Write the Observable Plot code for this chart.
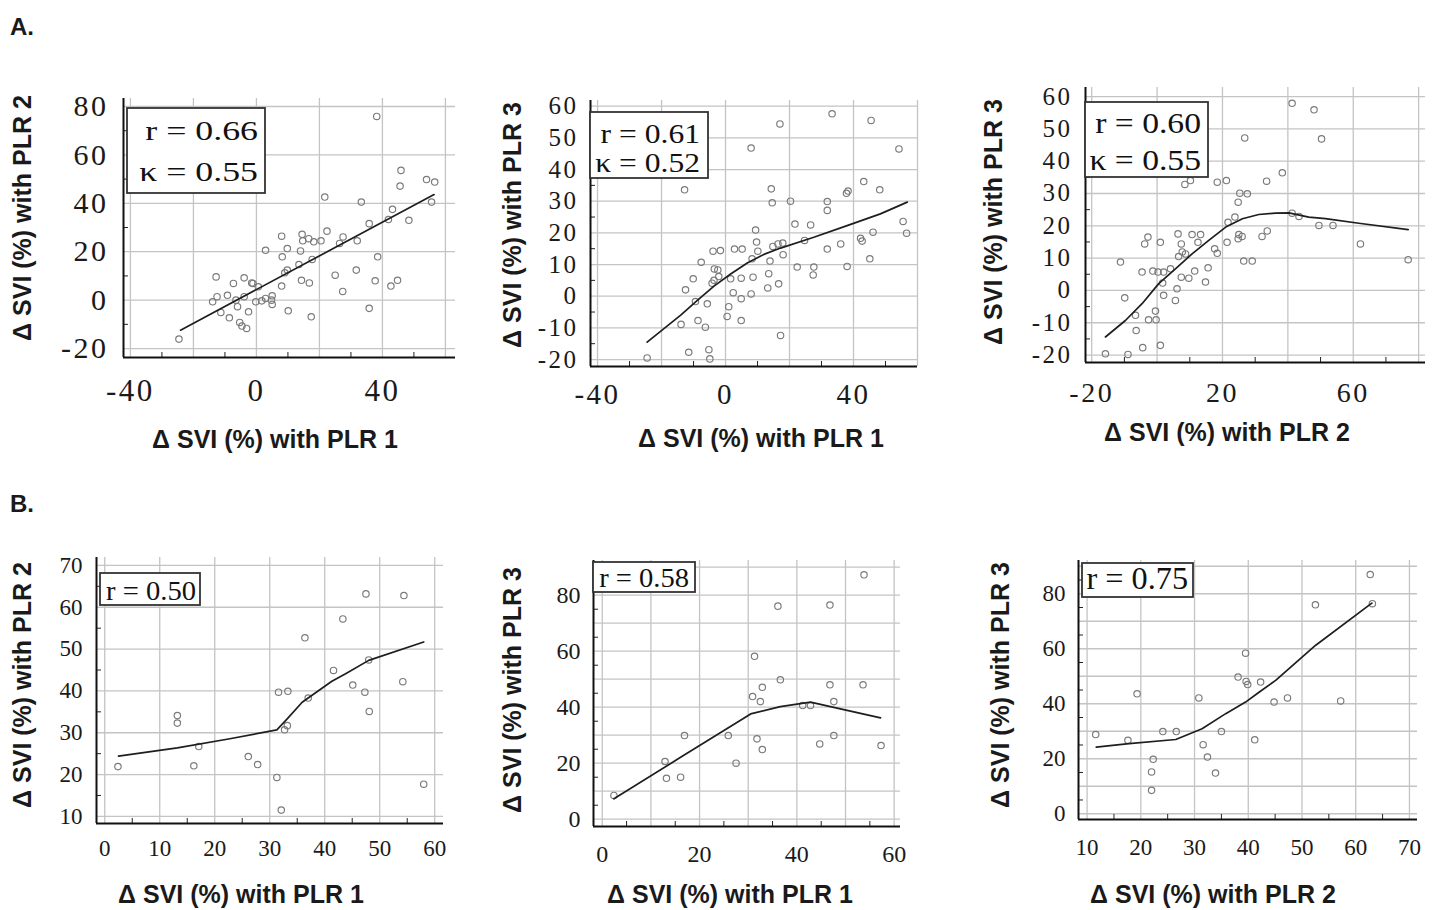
<!DOCTYPE html>
<html><head><meta charset="utf-8">
<script src="https://cdn.jsdelivr.net/npm/d3@7"></script>
<script src="https://cdn.jsdelivr.net/npm/@observablehq/plot@0.6"></script>
<style>
html,body{margin:0;padding:0;background:#fff;}
#fig{position:relative;width:1438px;height:910px;overflow:hidden;background:#fff;}
#fig .panel{position:absolute;}
#fig svg{overflow:visible;}
.wideA svg text{letter-spacing:2.5px;}
</style></head><body><div id="fig"></div>
<script>
// ---------- DATA ----------
// Panel A1: ΔSVI PLR1 (x) vs PLR2 (y)
const a1X = [38.2,45.9,45.6,54,56.6,55.6,21.7,33.3,43.2,35.8,41.9,48.4,8,14.5,14.7,16.6,18.2,20.5,22.4,27.5,26.4,32,2.9,9.8,8.2,14,17.7,13.5,9.8,9,38.5,25,31.7,14.3,16.8,37.7,44.8,42.7,27.4,35.8,17.4,10.1,-12.8,-7.3,-3.9,-1.5,-1.1,0.6,8,-13.9,-12.5,-9.2,-3.9,-6.5,-0.2,1.7,2.9,5,4.8,5,-11.3,-8.6,-6,-2.5,-5.3,-4.6,-3.1,-24.6];
const a1Y = [75.9,53.6,47.1,49.8,48.8,40.5,42.6,40.5,37.5,31.6,33.3,33.0,26.4,27.2,24.5,25.4,24.1,24.5,28.5,26.1,23.4,24.5,20.6,21.3,17.9,20.3,16.8,14.7,12.4,11.3,17.9,10.3,12.4,8.2,7.1,8,8.2,5.8,3.6,-3.4,-6.9,-4.4,9.6,6.9,9.2,7.1,6.9,5.5,5.8,-0.7,1.4,2,1.4,0,-0.7,-0.3,0.7,1.8,0,-1.8,-5.1,-7.3,-2.7,-4.8,-9.2,-10.7,-11.7,-16.1];
const a1LineX = [-24.1,56.4];
const a1LineY = [-12.4,43.6];
// Panel A2: PLR1 (x) vs PLR3 (y)
const a2X = [33.3,45.5,17,8,54.2,-12.8,14.3,14.6,20.3,31.8,31.8,37.8,38.3,43.2,48.2,55.5,56.6,9.4,21.7,26.6,9.7,10.1,14.8,16.4,17.9,18,13.9,8.3,24.7,31.8,36,42.2,42.7,46.1,45.1,38,27.6,27.4,22.4,-3.9,-1.6,2.8,5.2,-7.6,-3.5,-2.4,-2.1,-3.6,-4.2,-10.1,-12.5,1.6,4.9,8.6,13.5,13.2,16.6,2.4,4.9,8,-9.4,-5.7,1,0.5,4.9,-13.9,-8.6,-6.3,17.2,-11.5,-5.2,-4.9,-24.5];
const a2Y = [57.6,55.5,54.4,46.8,46.5,33.6,33.9,29.5,30,29.9,27.1,32.5,33.2,36.2,33.6,23.6,19.9,20.9,22.8,22.5,17.1,14.2,15.7,16.5,16.8,13.1,11.1,11.8,17.6,14.9,16.5,18.3,17.4,20.2,11.8,9.4,9.2,6.7,9.2,14.2,14.4,14.9,14.9,10.7,8.6,8.3,6.2,5,4.1,5.5,2,5.5,5.7,6,7.1,2.6,3.9,1.1,-0.8,0.7,-1.7,-2.4,-3.3,-6.4,-7.7,-8.9,-7.7,-9.8,-12.4,-17.7,-16.9,-19.8,-19.5];
const a2LineX = [-24.5,-14,-8.9,-3.6,1.6,6.8,12,17.2,27.6,38,48.4,56.8];
const a2LineY = [-14.5,-6,-1.4,3.2,7,10.5,13.2,15.2,18.6,22.3,26,29.7];
// Panel A3: PLR2 (x) vs PLR3 (y)
const a3X = [41.3,48,50.3,26.8,38.3,33.5,18.4,21.2,8.5,10.2,25.3,27.6,24.8,23.8,21.7,41.3,43.4,49.5,53.8,62.2,76.8,33.7,32.1,25,26,24.8,21.4,17.6,18.4,26.5,29.1,10.7,13.3,12.5,6.4,7.4,7.7,8.7,6.6,1,-2.8,-3.8,15.6,11.5,9.7,7.4,14.8,6.1,4.1,2,0.3,-1.3,-4.6,1.7,2,5.6,-11.2,-9.9,-6.6,-2.6,-0.5,-0.3,-6.4,-4.4,1,-15.8,-8.9];
const a3Y = [57.9,55.9,46.9,47.2,36.4,33.8,33.5,34,32.8,34,30.1,29.9,27.3,22.7,21.1,23.9,22.9,20.1,20.1,14.4,9.5,18.4,16.7,17.3,16.7,16,14.9,12.9,11.5,9.1,9.1,17.3,17.3,14.9,17.5,14.4,11.9,11.3,10.5,14.9,16.5,14.4,7,6,3.8,4.1,2.6,0.5,6.7,5.7,5.7,6,5.7,2.3,-1.5,-3.1,8.8,-2.3,-7.7,-9.1,-6.4,-9.1,-12.4,-17.7,-17,-19.6,-19.8];
const a3LineX = [-15.8,-9.7,-4.6,0.5,5.6,10.7,15.8,21,26.1,31.1,36.2,40.3,46.4,51.5,61.7,76.8];
const a3LineY = [-14.4,-9.3,-4.1,2.1,6.7,11.3,15.5,19.6,22.2,23.5,23.9,24,22.7,22.2,20.8,18.8];
// Panel B1: PLR1 (x) vs PLR2 (y)
const b1X = [2.4,13.2,13.2,16.2,17.1,26.1,27.8,31.3,32.1,31.6,33.3,32.7,33.2,36.4,37,41.6,43.3,45.1,47.3,48.1,48,47.5,54.4,54.2,58];
const b1Y = [21.9,34.1,32.3,22.1,26.7,24.3,22.4,19.3,11.5,39.7,39.9,30.7,31.7,52.7,38.3,44.9,57.2,41.4,39.7,35.1,47.4,63.2,62.8,42.2,17.7];
const b1LineX = [2.5,13.2,22.5,31.3,33.3,35.9,41.3,43.8,48,58];
const b1LineY = [24.4,26.4,28.5,30.7,33.5,37.3,42.3,44.1,47.3,51.7];
// Panel B2: PLR1 (x) vs PLR3 (y)
const b2X = [2.4,12.9,13.2,16.1,16.9,25.9,27.5,31.3,30.9,32.5,32.9,31.8,32.9,36.1,36.6,41.2,42.8,44.7,46.8,46.8,47.6,47.6,53.8,53.6,57.3];
const b2Y = [8.5,20.6,14.6,15,29.9,29.9,20,58.2,43.8,42,47.1,28.7,24.9,76.1,49.8,40.6,40.6,26.9,76.5,48,42,29.9,87.3,48,26.3];
const b2LineX = [2.4,16.1,30.5,36.6,42.8,46.9,57.2];
const b2LineY = [7.3,22.1,37.6,40.2,41.8,40.2,36.2];
// Panel B3: PLR2 (x) vs PLR3 (y)
const b3X = [11.6,17.6,19.3,24.1,26.6,22.3,22,22,30.8,31.6,32.4,33.9,35,38.1,39.5,39.6,39.9,42.3,41.2,44.8,47.3,52.5,57.2,62.7,63.1];
const b3Y = [28.8,26.7,43.6,29.9,29.9,19.8,15.2,8.5,42.1,25.1,20.6,14.8,29.9,49.7,58.4,48.1,47,47.9,26.9,40.6,42.1,76,41,87,76.4];
const b3LineX = [11.7,17.8,26.5,31.4,35.8,39.5,42,45.1,52.5,63];
const b3LineY = [24.2,25.5,27,30.9,36.4,40.6,44.2,48.5,61.2,76.6];

// Tick values
const a1XTicks = [-40,0,40], a1XGrid = [-40,-20,0,20,40,60], a1XMinor = [-30,-10,10,30,50];
const a1YTicks = [-20,0,20,40,60,80], a1YGrid = [-20,0,20,40,60,80], a1YMinor = [-10,10,30,50,70];
const a2XTicks = [-40,0,40], a2XGrid = [-40,-20,0,20,40,60], a2XMinor = [-30,-10,10,30,50];
const a2YTicks = [-20,-10,0,10,20,30,40,50,60], a2YGrid = a2YTicks, a2YMinor = [-15,-5,5,15,25,35,45,55];
const a3XTicks = [-20,20,60], a3XGrid = [-20,0,20,40,60,80], a3XMinor = [-10,10,30,50,70];
const a3YTicks = [-20,-10,0,10,20,30,40,50,60], a3YGrid = a3YTicks, a3YMinor = [-15,-5,5,15,25,35,45,55];
const b1XTicks = [0,10,20,30,40,50,60], b1XGrid = b1XTicks, b1XMinor = [5,15,25,35,45,55];
const b1YTicks = [10,20,30,40,50,60,70], b1YGrid = b1YTicks, b1YMinor = [15,25,35,45,55,65];
const b2XTicks = [0,20,40,60], b2XGrid = [0,10,20,30,40,50,60], b2XMinor = [5,15,25,35,45,55];
const b2YTicks = [0,20,40,60,80], b2YGrid = [0,10,20,30,40,50,60,70,80,90], b2YMinor = [5,15,25,35,45,55,65,75,85];
const b3XTicks = [10,20,30,40,50,60,70], b3XGrid = b3XTicks, b3XMinor = [15,25,35,45,55,65];
const b3YTicks = [0,20,40,60,80], b3YGrid = [0,10,20,30,40,50,60,70,80,90], b3YMinor = [5,15,25,35,45,55,65,75,85];

// Texts
const panelLetters = ["A.", "B."];
const xTitles = ["Δ SVI (%) with PLR 1","Δ SVI (%) with PLR 1","Δ SVI (%) with PLR 2","Δ SVI (%) with PLR 1","Δ SVI (%) with PLR 1","Δ SVI (%) with PLR 2"];
const yTitles = ["Δ SVI (%) with PLR 2","Δ SVI (%) with PLR 3","Δ SVI (%) with PLR 3","Δ SVI (%) with PLR 2","Δ SVI (%) with PLR 3","Δ SVI (%) with PLR 3"];
const statR = ["r = 0.66","r = 0.61","r = 0.60","r = 0.50","r = 0.58","r = 0.75"];
const statK = ["κ = 0.55","κ = 0.52","κ = 0.55",null,null,null];

// ---------- LAYOUT (positions / sizes / styles) ----------
const layout = [
  {left:123,right:455,top:98,bottom:357,xd:[-42.2,63.2],yd:[-23.7,83.3],xF:31,yF:30,xPad:21,yPad:15,wide:true,
   xt:[275,448],yt:[22,218],box:{x:127,y:108,w:138,h:85,tx:258,b1:140,b2:181,f:28,sx:1.28}},
  {left:590,right:917,top:100,bottom:366,xd:[-42.2,60],yd:[-22.2,61.8],xF:29,yF:25,xPad:17,yPad:12,wide:true,
   xt:[761,447],yt:[512,225],box:{x:590,y:112,w:118,h:66,tx:700,b1:143,b2:172,f:27,sx:1.17}},
  {left:1085,right:1425,top:87,bottom:362,xd:[-21.9,82.1],yd:[-22.3,62.8],xF:28,yF:25,xPad:20,yPad:13,wide:true,
   xt:[1227,441],yt:[993,222],box:{x:1085,y:102,w:123,h:75,tx:1201,b1:133,b2:170,f:29,sx:1.16}},
  {left:96,right:443,top:557,bottom:823,xd:[-1.5,61.6],yd:[8.3,71.9],xF:23,yF:23,xPad:16,yPad:14,wide:false,
   xt:[241,903],yt:[22,685],box:{x:100,y:573,w:100,h:32,tx:196,b1:600,f:27,sx:1.06}},
  {left:593,right:900,top:560,bottom:826,xd:[-1.8,61.3],yd:[-2.6,92.4],xF:24,yF:24,xPad:18,yPad:13,wide:false,
   xt:[730,903],yt:[512,690],box:{x:593,y:562,w:102,h:30,tx:689,b1:587,f:28,sx:1.02}},
  {left:1078,right:1417,top:560,bottom:819,xd:[8.4,71.5],yd:[-2.1,92.1],xF:23,yF:23,xPad:19,yPad:13,wide:false,
   xt:[1213,903],yt:[1000,685],box:{x:1082,y:563,w:111,h:34,tx:1188,b1:589,f:31,sx:1.04}}
];

const panels = [
  {x:a1X,y:a1Y,lx:a1LineX,ly:a1LineY,xT:a1XTicks,xG:a1XGrid,xM:a1XMinor,yT:a1YTicks,yG:a1YGrid,yM:a1YMinor},
  {x:a2X,y:a2Y,lx:a2LineX,ly:a2LineY,xT:a2XTicks,xG:a2XGrid,xM:a2XMinor,yT:a2YTicks,yG:a2YGrid,yM:a2YMinor},
  {x:a3X,y:a3Y,lx:a3LineX,ly:a3LineY,xT:a3XTicks,xG:a3XGrid,xM:a3XMinor,yT:a3YTicks,yG:a3YGrid,yM:a3YMinor},
  {x:b1X,y:b1Y,lx:b1LineX,ly:b1LineY,xT:b1XTicks,xG:b1XGrid,xM:b1XMinor,yT:b1YTicks,yG:b1YGrid,yM:b1YMinor},
  {x:b2X,y:b2Y,lx:b2LineX,ly:b2LineY,xT:b2XTicks,xG:b2XGrid,xM:b2XMinor,yT:b2YTicks,yG:b2YGrid,yM:b2YMinor},
  {x:b3X,y:b3Y,lx:b3LineX,ly:b3LineY,xT:b3XTicks,xG:b3XGrid,xM:b3XMinor,yT:b3YTicks,yG:b3YGrid,yM:b3YMinor}
];

const fig = document.getElementById("fig");
const ML = 100, MR = 12, MT = 12, MB = 60;
const fmt = d => String(d);

panels.forEach((p, i) => {
  const L = layout[i];
  const pts = p.x.map((x, j) => ({x, y: p.y[j]}));
  const ln = p.lx.map((x, j) => ({x, y: p.ly[j]}));
  const svg = Plot.plot({
    width: L.right - L.left + ML + MR,
    height: L.bottom - L.top + MT + MB,
    marginLeft: ML, marginRight: MR, marginTop: MT, marginBottom: MB,
    x: {domain: L.xd, label: null}, y: {domain: L.yd, label: null},
    style: {fontFamily: "'Liberation Serif', 'Times New Roman', serif", background: "transparent", color: "#1a1a1a", overflow: "visible"},
    marks: [
      Plot.ruleX(p.xG, {stroke: "#c4c4c4", strokeWidth: 1.3}),
      Plot.ruleY(p.yG, {stroke: "#c4c4c4", strokeWidth: 1.3}),
      Plot.axisX(p.xM, {anchor: "bottom", label: null, tickSize: 5, dy: -5, tickFormat: () => "", stroke: "#222"}),
      Plot.axisY(p.yM, {anchor: "left", label: null, tickSize: 5, dx: 5, tickFormat: () => "", stroke: "#222"}),
      Plot.axisX(p.xT, {anchor: "bottom", label: null, tickSize: 0, tickPadding: L.xPad, fontSize: L.xF, tickFormat: fmt, fill: "#1a1a1a"}),
      Plot.axisY(p.yT, {anchor: "left", label: null, tickSize: 0, tickPadding: L.yPad, fontSize: L.yF, tickFormat: fmt, fill: "#1a1a1a"}),
      Plot.dot(pts, {x: "x", y: "y", r: 3.2, stroke: "#7a7a7a", strokeWidth: 1.15, fill: "none"}),
      Plot.line(ln, {x: "x", y: "y", stroke: "#1e1e1e", strokeWidth: 1.7}),
      Plot.ruleX([L.xd[0]], {stroke: "#111", strokeWidth: 2}),
      Plot.ruleY([L.yd[0]], {stroke: "#111", strokeWidth: 2})
    ]
  });
  const div = document.createElement("div");
  div.className = "panel" + (L.wide ? " wideA" : "");
  div.style.left = (L.left - ML) + "px";
  div.style.top = (L.top - MT) + "px";
  div.appendChild(svg);
  fig.appendChild(div);
});

// Overlay: titles, letters, stat boxes
const ov = d3.select(fig).append("svg")
  .attr("width", 1438).attr("height", 910)
  .style("position", "absolute").style("left", 0).style("top", 0);

const sans = "'Liberation Sans', Arial, sans-serif";
const serif = "'Liberation Serif', 'Times New Roman', serif";
const letterPos = [[10, 35], [10, 512]];
panelLetters.forEach((t, i) => {
  ov.append("text").attr("x", letterPos[i][0]).attr("y", letterPos[i][1])
    .attr("font-family", sans).attr("font-weight", "bold").attr("font-size", 24).attr("fill", "#1a1a1a").text(t);
});

layout.forEach((L, i) => {
  ov.append("text").attr("x", L.xt[0]).attr("y", L.xt[1]).attr("text-anchor", "middle")
    .attr("font-family", sans).attr("font-weight", "bold").attr("font-size", 25).attr("fill", "#1a1a1a").text(xTitles[i]);
  ov.append("text").attr("transform", `translate(${L.yt[0]},${L.yt[1]}) rotate(-90)`)
    .attr("text-anchor", "middle").attr("dominant-baseline", "central")
    .attr("font-family", sans).attr("font-weight", "bold").attr("font-size", 25).attr("fill", "#1a1a1a").text(yTitles[i]);
  const B = L.box;
  ov.append("rect").attr("x", B.x).attr("y", B.y).attr("width", B.w).attr("height", B.h)
    .attr("fill", "#fff").attr("stroke", "#333").attr("stroke-width", 1.8);
  ov.append("text").attr("transform", `translate(${B.tx},${B.b1}) scale(${B.sx},1)`).attr("text-anchor", "end")
    .attr("font-family", serif).attr("font-size", B.f).attr("fill", "#111").text(statR[i]);
  if (statK[i]) {
    ov.append("text").attr("transform", `translate(${B.tx},${B.b2}) scale(${B.sx},1)`).attr("text-anchor", "end")
      .attr("font-family", serif).attr("font-size", B.f).attr("fill", "#111").text(statK[i]);
  }
});
</script>
</body></html>
